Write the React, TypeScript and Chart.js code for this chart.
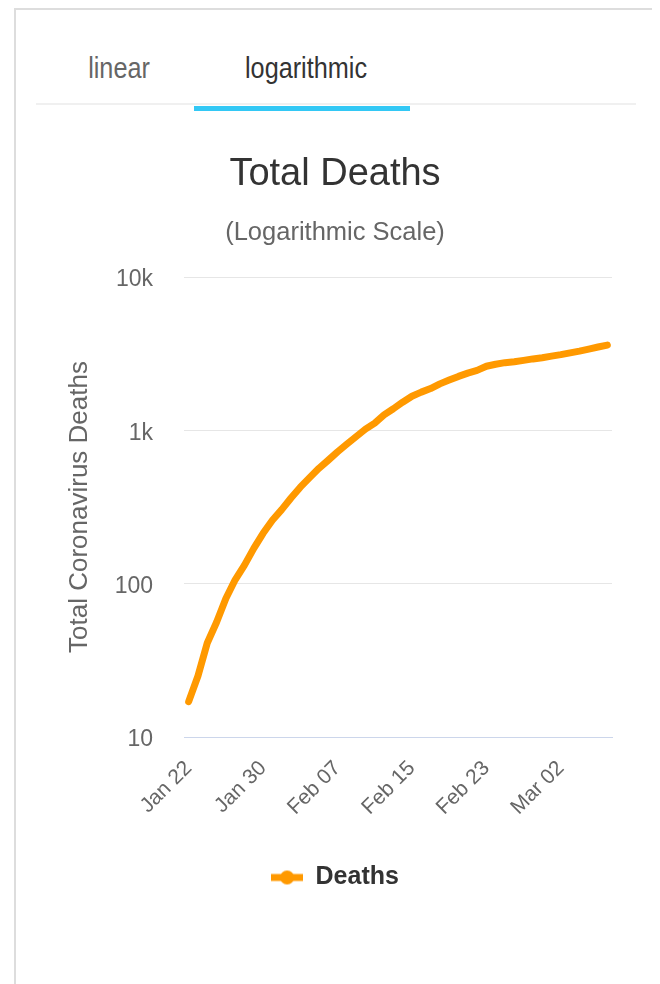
import React, { useEffect, useRef } from 'react';
import { Chart, registerables } from 'chart.js';

Chart.register(...registerables);

const dates = [
  'Jan 22', 'Jan 23', 'Jan 24', 'Jan 25', 'Jan 26', 'Jan 27', 'Jan 28', 'Jan 29', 'Jan 30', 'Jan 31',
  'Feb 01', 'Feb 02', 'Feb 03', 'Feb 04', 'Feb 05', 'Feb 06', 'Feb 07', 'Feb 08', 'Feb 09', 'Feb 10',
  'Feb 11', 'Feb 12', 'Feb 13', 'Feb 14', 'Feb 15', 'Feb 16', 'Feb 17', 'Feb 18', 'Feb 19', 'Feb 20',
  'Feb 21', 'Feb 22', 'Feb 23', 'Feb 24', 'Feb 25', 'Feb 26', 'Feb 27', 'Feb 28', 'Feb 29',
  'Mar 01', 'Mar 02', 'Mar 03', 'Mar 04', 'Mar 05', 'Mar 06', 'Mar 07',
];

const deaths = [
  17, 25, 41, 56, 80, 106, 132, 170, 213, 259,
  304, 362, 426, 492, 565, 638, 724, 813, 910, 1018,
  1115, 1261, 1383, 1526, 1669, 1775, 1873, 2009, 2126, 2247,
  2360, 2460, 2618, 2699, 2763, 2800, 2858, 2923, 2977,
  3050, 3117, 3202, 3285, 3387, 3494, 3599,
];

const xTickLabels = ['Jan 22', 'Jan 30', 'Feb 07', 'Feb 15', 'Feb 23', 'Mar 02'];
const yTickValues = [10, 100, 1000, 10000];
const yTickLabels = ['10', '100', '1k', '10k'];

const tabLabels = ['linear', 'logarithmic'];
const seriesName = 'Deaths';
const chartTitle = 'Total Deaths';
const chartSubtitle = '(Logarithmic Scale)';
const yAxisTitle = 'Total Coronavirus Deaths';

const FONT = '"Liberation Sans", Arial, sans-serif';
const ORANGE = '#ff9900';

export default function App() {
  const canvasRef = useRef<HTMLCanvasElement>(null);

  useEffect(() => {
    const marker = document.createElement('canvas');
    marker.width = 32;
    marker.height = 16;
    const mctx = marker.getContext('2d')!;
    mctx.strokeStyle = ORANGE;
    mctx.lineWidth = 7;
    mctx.beginPath();
    mctx.moveTo(0, 8);
    mctx.lineTo(32, 8);
    mctx.stroke();
    mctx.fillStyle = ORANGE;
    mctx.beginPath();
    mctx.arc(16, 8, 7, 0, Math.PI * 2);
    mctx.fill();

    const chart = new Chart(canvasRef.current!, {
      type: 'line',
      data: {
        labels: dates,
        datasets: [
          {
            label: seriesName,
            data: deaths,
            borderColor: ORANGE,
            backgroundColor: ORANGE,
            borderWidth: 7,
            pointRadius: 0,
            pointHoverRadius: 0,
            tension: 0,
            borderJoinStyle: 'round',
            borderCapStyle: 'round',
            fill: false,
          },
        ],
      },
      options: {
        animation: false,
        responsive: false,
        maintainAspectRatio: false,
        events: [],
        scales: {
          x: {
            type: 'category',
            offset: true,
            grid: { display: false, offset: false },
            border: { display: true, color: '#ccd6eb', width: 1 },
            ticks: {
              autoSkip: false,
              maxRotation: 45,
              minRotation: 45,
              padding: 11,
              color: '#666666',
              font: { family: FONT, size: 21 },
              callback: (_v: any, i: number) => (xTickLabels.includes(dates[i]) ? dates[i] : null),
            },
            afterFit: (s: any) => {
              s.height = 118;
              s.paddingRight = 42;
              s.paddingLeft = 0;
            },
          },
          y: {
            type: 'logarithmic',
            min: 10,
            max: 10000,
            afterBuildTicks: (s: any) => {
              s.ticks = yTickValues.map((v) => ({ value: v }));
            },
            grid: {
              color: (c: any) => (c.tick && c.tick.value === 10 ? '#ccd6eb' : '#e6e6e6'),
              lineWidth: 1,
              drawTicks: false,
            },
            border: { display: false },
            ticks: {
              padding: 31,
              labelOffset: 3,
              color: '#666666',
              font: { family: FONT, size: 23 },
              callback: (v: any) => {
                const k = yTickValues.indexOf(Number(v));
                return k >= 0 ? yTickLabels[k] : '';
              },
            },
            title: {
              display: true,
              text: yAxisTitle,
              color: '#666666',
              font: { family: FONT, size: 26 },
              padding: { top: 48.4, bottom: 0 },
            },
            afterFit: (s: any) => {
              s.width = 168;
            },
          },
        },
        plugins: {
          title: {
            display: true,
            text: chartTitle,
            color: '#333333',
            font: { family: FONT, size: 38, weight: 'normal' },
            padding: { top: 22, bottom: 0 },
          },
          subtitle: {
            display: true,
            text: chartSubtitle,
            color: '#666666',
            font: { family: FONT, size: 25.5, weight: 'normal' },
            padding: { top: 20.1, bottom: 28.7 },
          },
          legend: {
            position: 'bottom',
            labels: {
              usePointStyle: true,
              pointStyle: marker,
              pointStyleWidth: 32,
              boxHeight: 25,
              padding: 10,
              color: '#333333',
              font: { family: FONT, size: 25, weight: 'bold' },
            },
          },
          tooltip: { enabled: false },
        },
      },
    } as any);

    return () => chart.destroy();
  }, []);

  return (
    <div style={{ position: 'relative', height: 976, overflow: 'hidden', fontFamily: FONT }}>
      <div
        style={{
          position: 'absolute',
          left: 6,
          top: 0,
          width: 642,
          height: 1000,
          boxSizing: 'border-box',
          border: '2px solid #dddddd',
          background: '#ffffff',
        }}
      />
      <div
        style={{
          position: 'absolute',
          left: 28,
          top: 95,
          width: 600,
          height: 2,
          background: '#f0f0f0',
        }}
      />
      <div
        style={{
          position: 'absolute',
          left: 186,
          top: 98,
          width: 216,
          height: 5,
          background: '#33c8f5',
        }}
      />
      {tabLabels.map((t, i) => (
        <div
          key={t}
          style={{
            position: 'absolute',
            left: i === 0 ? 31 : 188,
            top: 45.5,
            width: i === 0 ? 160 : 220,
            textAlign: 'center',
            fontSize: 29,
            lineHeight: '29px',
            color: i === 0 ? '#666666' : '#333333',
            transform: 'scaleX(0.87)',
            whiteSpace: 'nowrap',
          }}
        >
          {t}
        </div>
      ))}
      <canvas
        ref={canvasRef}
        width={638}
        height={770}
        style={{ position: 'absolute', left: 8, top: 122, width: 638, height: 770 }}
      />
    </div>
  );
}
